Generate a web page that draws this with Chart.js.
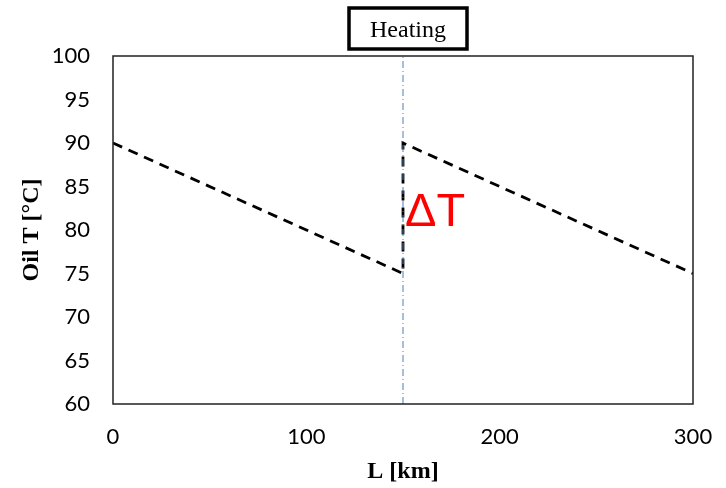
<!DOCTYPE html>
<html>
<head>
<meta charset="utf-8">
<script src="https://cdn.jsdelivr.net/npm/chart.js@4"></script>
<style>
  html, body { margin: 0; padding: 0; background: #fff; }
  #wrap { width: 726px; height: 488px; }
</style>
</head>
<body>
<div id="wrap"><canvas id="oilChart"></canvas></div>
<script>
// pipeline length [km] and oil temperature [°C]
const lengthKm = [0, 150, 150, 300];
const oilTemp = [90, 75, 90, 75];
// heating station position
const heaterKm = [150, 150];
const heaterT = [60, 100];
const xTicks = [0, 100, 200, 300];
const yTicks = [60, 65, 70, 75, 80, 85, 90, 95, 100];

const toPoints = (xs, ys) => xs.map((x, i) => ({ x: x, y: ys[i] }));

// frame around the plot, the "Heating" box and the ΔT label
const decorations = {
  id: 'decorations',
  afterDatasetsDraw(chart) {
    const { ctx, chartArea: a, scales } = chart;
    const hx = scales.x.getPixelForValue(heaterKm[0]);
    ctx.save();
    ctx.strokeStyle = '#222';
    ctx.lineWidth = 1.5;
    ctx.strokeRect(a.left, a.top, a.right - a.left, a.bottom - a.top);

    // box above the plot
    const bw = 118, bh = 41;
    const bx = hx + 5 - bw / 2, by = 8;
    ctx.lineWidth = 3.5;
    ctx.strokeStyle = '#000';
    ctx.strokeRect(bx, by, bw, bh);
    ctx.fillStyle = '#000';
    ctx.font = '24px "Liberation Serif"';
    ctx.textAlign = 'center';
    ctx.textBaseline = 'middle';
    ctx.fillText('Heating', bx + bw / 2, by + bh / 2 + 2);

    // temperature jump label
    ctx.fillStyle = '#ff0000';
    ctx.font = '47px "Liberation Sans"';
    ctx.textAlign = 'left';
    ctx.textBaseline = 'alphabetic';
    ctx.fillText('ΔT', hx + 2, scales.y.getPixelForValue(80.5));
    ctx.restore();
  }
};

new Chart(document.getElementById('oilChart'), {
  type: 'scatter',
  data: {
    datasets: [
      {
        data: toPoints(heaterKm, heaterT),
        showLine: true,
        borderColor: '#4a7ebb',
        borderWidth: 1,
        borderDash: [7, 3, 1, 3],
        pointRadius: 0
      },
      {
        data: toPoints(lengthKm, oilTemp),
        showLine: true,
        borderColor: '#000',
        borderWidth: 2.8,
        borderDash: [10, 7],
        pointRadius: 0
      }
    ]
  },
  options: {
    responsive: true,
    maintainAspectRatio: false,
    animation: false,
    layout: { padding: { top: 56, right: 33, left: 0, bottom: 0 } },
    plugins: {
      legend: { display: false },
      tooltip: { enabled: false }
    },
    scales: {
      x: {
        type: 'linear',
        min: 0,
        max: 300,
        afterBuildTicks: s => { s.ticks = xTicks.map(v => ({ value: v })); },
        afterFit: s => { s.height = 84; s.paddingLeft = 0; s.paddingRight = 0; },
        grid: { display: false, drawTicks: false },
        border: { display: false },
        ticks: {
          color: '#000',
          padding: 20,
          maxRotation: 0,
          font: { family: 'Lato', size: 22 }
        },
        title: {
          display: true,
          text: 'L [km]',
          color: '#000',
          padding: { top: 6, bottom: 2 },
          font: { family: 'Liberation Serif', size: 24, weight: 'bold' }
        }
      },
      y: {
        min: 60,
        max: 100,
        afterBuildTicks: s => { s.ticks = yTicks.map(v => ({ value: v })); },
        afterFit: s => { s.width = 113; s.paddingTop = 0; s.paddingBottom = 0; },
        grid: { display: false, drawTicks: false },
        border: { display: false },
        ticks: {
          color: '#000',
          padding: 23,
          font: { family: 'Lato', size: 22 }
        },
        title: {
          display: true,
          text: 'Oil T [°C]',
          color: '#000',
          padding: { bottom: 0, top: 17 },
          font: { family: 'Liberation Serif', size: 24, weight: 'bold' }
        }
      }
    }
  },
  plugins: [decorations]
});
</script>
</body>
</html>
